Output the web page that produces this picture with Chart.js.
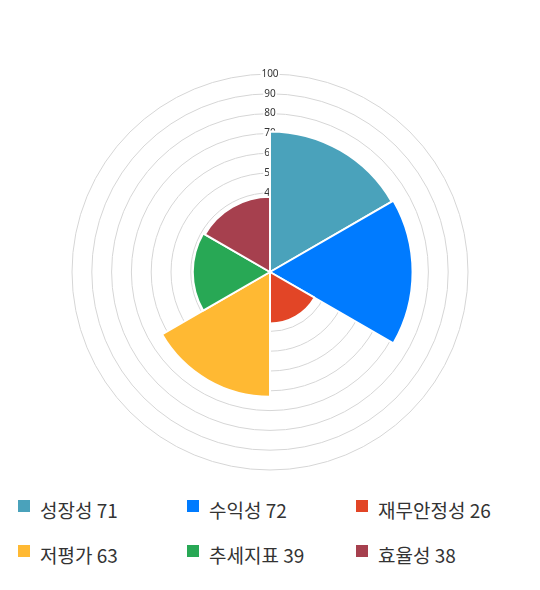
<!DOCTYPE html>
<html><head><meta charset="utf-8">
<script src="https://cdn.jsdelivr.net/npm/chart.js@4"></script>
<style>
html,body{margin:0;padding:0;background:#fff;width:540px;height:590px;overflow:hidden;font-family:"Noto Sans CJK KR","Noto Sans",sans-serif;}
#wrap{position:absolute;left:66px;top:68px;width:408px;height:408px;}
#legend{position:absolute;left:18px;top:492px;width:520px;}
.item{position:absolute;display:flex;align-items:center;font-size:19px;color:#333;white-space:nowrap;height:34px;}
.sw{width:12px;height:12px;margin-right:10px;margin-top:-6px;}
</style></head>
<body>
<div id="wrap"><canvas id="c" width="408" height="408"></canvas></div>
<div id="legend"></div>
<script>
const categories = ["성장성","수익성","재무안정성","저평가","추세지표","효율성"];
const values = [71,72,26,63,39,38];
const colors = ["#4aa2bb","#007bff","#e24526","#ffb933","#28a855","#a6404e"];
const tickMax = 100;
const tickStep = 10;

new Chart(document.getElementById('c'), {
  type: 'polarArea',
  data: { labels: categories, datasets: [{ data: values, backgroundColor: colors, borderColor: '#fff', borderWidth: 2 }] },
  options: {
    responsive: false, animation: false,
    layout: { padding: 0 },
    plugins: { legend: { display: false }, tooltip: { enabled: false } },
    scales: { r: {
      min: 0, max: tickMax,
      ticks: { stepSize: tickStep, color: '#333', font: { size: 10, family: 'Noto Sans' }, backdropColor: '#fff', backdropPadding: 1, z: 0 },
      grid: { color: '#d6d6d6' },
      angleLines: { display: false },
      pointLabels: { display: false }
    } }
  }
});

const lg = document.getElementById('legend');
categories.forEach((c,i)=>{
  const d = document.createElement('div');
  d.className='item';
  d.style.left = (i%3)*169 + 'px';
  d.style.top = Math.floor(i/3)*45 + 'px';
  d.innerHTML = '<span class="sw" style="background:'+colors[i]+'"></span><span>'+c+' '+values[i]+'</span>';
  lg.appendChild(d);
});
</script>
</body></html>
